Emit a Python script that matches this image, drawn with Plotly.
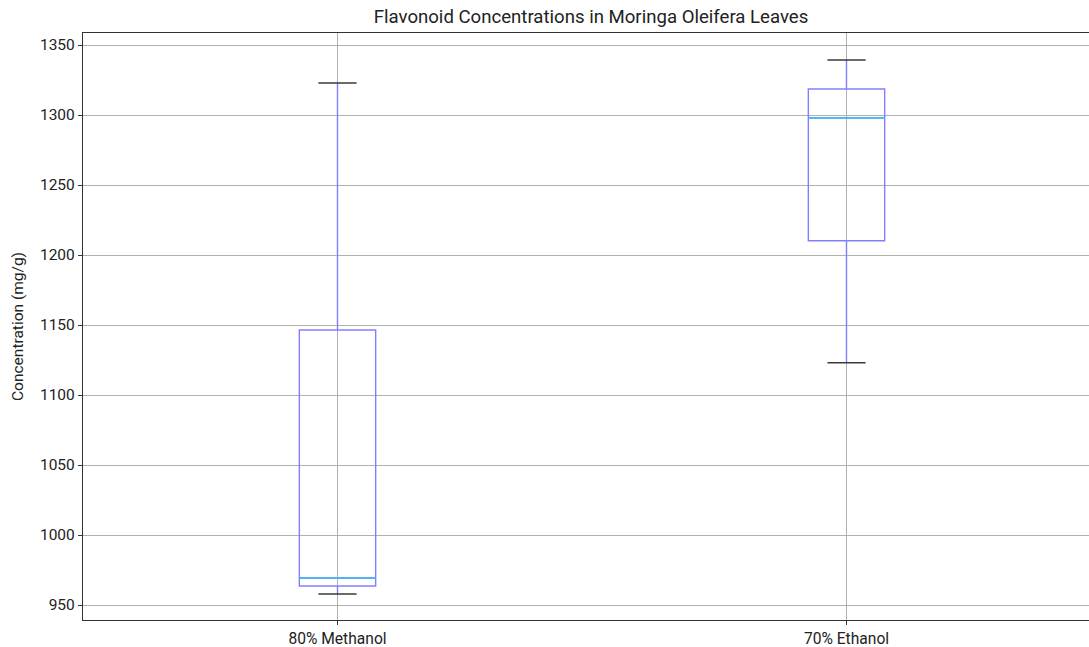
import plotly.graph_objects as go

# 용매별 플라보노이드 농도
categories = ["80% Methanol", "70% Ethanol"]
lower_whisker = [957.9, 1123.1]
q1 = [963.6, 1210.2]
median = [969.3, 1298.0]
q3 = [1146.4, 1318.6]
upper_whisker = [1322.9, 1339.3]

positions = list(range(1, len(categories) + 1))
box_w = 0.15
box_color = "#8080ff"
median_color = "#3db8f5"
cap_color = "#3a3a3a"

fig = go.Figure()

## 박스 + 수염
for i, name in enumerate(categories):
    fig.add_trace(go.Box(
        x=[positions[i]], q1=[q1[i]], median=[median[i]], q3=[q3[i]],
        lowerfence=[lower_whisker[i]], upperfence=[upper_whisker[i]],
        name=name, width=box_w, whiskerwidth=0,
        line=dict(color=box_color, width=1.4),
        fillcolor="rgba(0,0,0,0)", showlegend=False, hoverinfo="skip",
    ))

## 중앙값 선, 캡
for i in range(len(categories)):
    p = positions[i]
    fig.add_trace(go.Scatter(
        x=[p - box_w / 2, p + box_w / 2], y=[median[i], median[i]],
        mode="lines", line=dict(color=median_color, width=1.7),
        showlegend=False, hoverinfo="skip",
    ))
    for yv in (lower_whisker[i], upper_whisker[i]):
        fig.add_trace(go.Scatter(
            x=[p - box_w / 4, p + box_w / 4], y=[yv, yv],
            mode="lines", line=dict(color=cap_color, width=1.4),
            showlegend=False, hoverinfo="skip",
        ))

fig.update_layout(
    width=1089, height=647,
    margin=dict(l=83, r=0, t=33, b=27),
    plot_bgcolor="white", paper_bgcolor="white",
    font=dict(family="Roboto", size=15, color="#222222"),
    title=dict(text="Flavonoid Concentrations in Moringa Oleifera Leaves",
               x=0.505, xref="paper", xanchor="center", y=0.974, yanchor="middle",
               font=dict(size=18.6, color="#222222")),
)

fig.update_xaxes(
    range=[0.5, 0.5 + (1089 - 83) / 509.0],
    tickvals=positions, ticktext=categories,
    showgrid=True, gridcolor="#b0b0b0", gridwidth=1,
    showline=True, linecolor="#333333", linewidth=1.2, mirror=True,
    ticks="outside", ticklen=4, tickcolor="#333333",
    tickfont=dict(size=15.6), zeroline=False,
)
fig.update_yaxes(
    range=[939.3, 1358.6],
    tickvals=[950, 1000, 1050, 1100, 1150, 1200, 1250, 1300, 1350],
    title=dict(text="Concentration (mg/g)", standoff=12, font=dict(size=15.5)),
    showgrid=True, gridcolor="#b0b0b0", gridwidth=1,
    showline=True, linecolor="#333333", linewidth=1.2, mirror=False,
    ticks="outside", ticklen=4, tickcolor="#333333",
    tickfont=dict(size=15.5), zeroline=False,
)

# 페이지 기본 여백 제거
fig.write_html("out.html", config={"displayModeBar": False},
               post_script="document.body.style.margin='0px';")
